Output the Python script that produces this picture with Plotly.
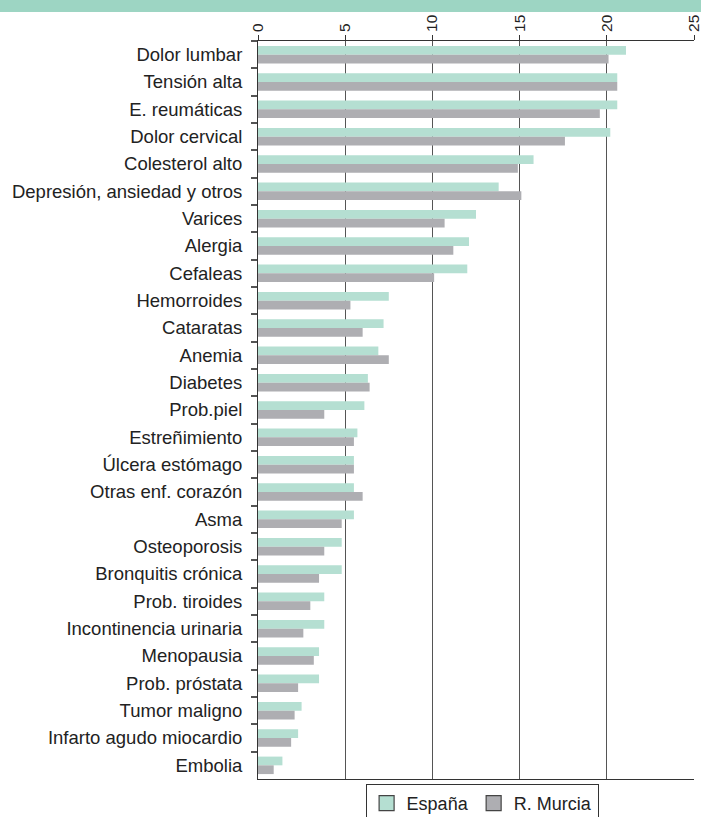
import plotly.graph_objects as go

categorias = ["Dolor lumbar", "Tensión alta", "E. reumáticas", "Dolor cervical", "Colesterol alto",
              "Depresión, ansiedad y otros", "Varices", "Alergia", "Cefaleas", "Hemorroides",
              "Cataratas", "Anemia", "Diabetes", "Prob.piel", "Estreñimiento", "Úlcera estómago",
              "Otras enf. corazón", "Asma", "Osteoporosis", "Bronquitis crónica", "Prob. tiroides",
              "Incontinencia urinaria", "Menopausia", "Prob. próstata", "Tumor maligno",
              "Infarto agudo miocardio", "Embolia"]
espana = [21.1, 20.6, 20.6, 20.2, 15.8, 13.8, 12.5, 12.1, 12.0, 7.5, 7.2, 6.9, 6.3, 6.1, 5.7,
          5.5, 5.5, 5.5, 4.8, 4.8, 3.8, 3.8, 3.5, 3.5, 2.5, 2.3, 1.4]
murcia = [20.1, 20.6, 19.6, 17.6, 14.9, 15.1, 10.7, 11.2, 10.1, 5.3, 6.0, 7.5, 6.4, 3.8, 5.5,
          5.5, 6.0, 4.8, 3.8, 3.5, 3.0, 2.6, 3.2, 2.3, 2.1, 1.9, 0.9]
x_ticks = [0, 5, 10, 15, 20, 25]
series = ["España", "R. Murcia"]
colores = ["#b5dfd2", "#aeaeb2"]

fig = go.Figure()
for nombre, valores, color in zip(series, [espana, murcia], colores):
    fig.add_trace(go.Bar(y=categorias, x=valores, orientation="h", name=nombre,
                         marker=dict(color=color, line=dict(width=0)), showlegend=False))
# legend swatches (square with dark border)
for nombre, color in zip(series, colores):
    fig.add_trace(go.Scatter(x=[None], y=[None], mode="markers", name=nombre,
                             marker=dict(symbol="square", size=15, color=color,
                                         line=dict(color="#444", width=1.2))))

fig.update_layout(
    width=701, height=835,
    margin=dict(l=258, r=7, t=41, b=56, autoexpand=False),
    paper_bgcolor="white", plot_bgcolor="white",
    barmode="group", bargap=0.36, bargroupgap=0,
    font=dict(family="Liberation Sans, Arial, sans-serif", size=18, color="#222"),
    showlegend=True,
    legend=dict(orientation="h", x=0.514, xanchor="center", y=-5/738, yanchor="top",
                bordercolor="#333", borderwidth=1, font=dict(size=18, color="#222"),
                itemwidth=30, tracegroupgap=0, traceorder="normal",
                bgcolor="white"),
    shapes=[dict(type="rect", xref="paper", yref="paper", x0=-1, x1=2,
                 y0=1 + 29/738, y1=1 + 45/738, fillcolor="#9dd5c3", line=dict(width=0))],
)
fig.update_xaxes(side="top", range=[0, 25], tickvals=x_ticks, ticktext=[str(t) for t in x_ticks],
                 tickangle=-90, ticks="outside", ticklen=5, tickcolor="#333",
                 ticklabeloverflow="allow", automargin=False,
                 showline=True, linecolor="#333", linewidth=1, mirror=True,
                 showgrid=True, gridcolor="#555", gridwidth=1.2, zeroline=False,
                 tickfont=dict(size=15.5, color="#222"))
fig.update_yaxes(autorange="reversed", type="category", tickson="boundaries",
                 ticks="outside", ticklen=6, tickcolor="#555", tickwidth=1.5,
                 showline=True, linecolor="#333", linewidth=1, showgrid=False,
                 ticklabelstandoff=11, automargin=False,
                 tickfont=dict(size=18.5, color="#222"))

fig.write_html("out.html", config={"displayModeBar": False},
               post_script="document.body.style.margin='0px';document.body.style.overflow='hidden';")
